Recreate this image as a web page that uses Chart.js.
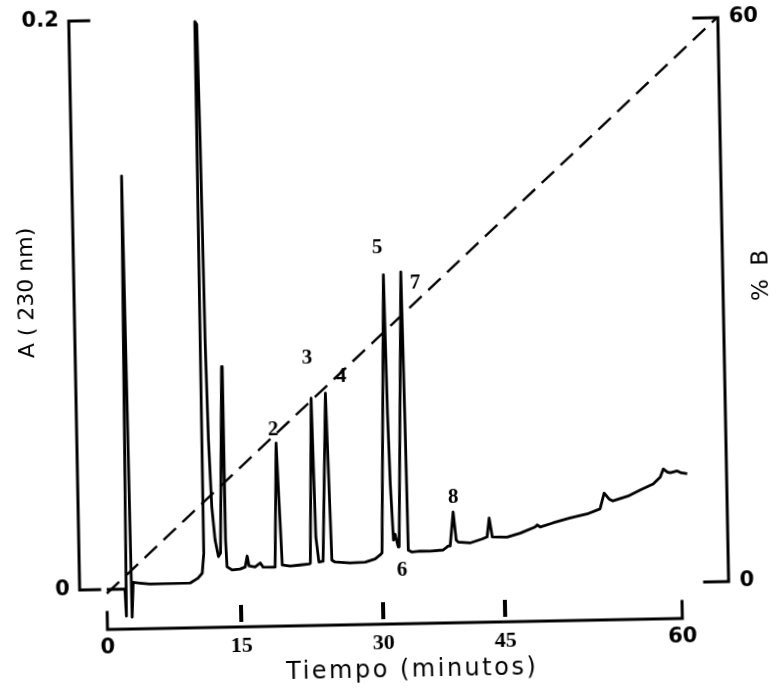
<!DOCTYPE html>
<html lang="es">
<head>
<meta charset="utf-8">
<title>Cromatograma</title>
<script src="https://cdn.jsdelivr.net/npm/chart.js@4.4.1/dist/chart.umd.min.js"></script>
<style>
  html, body { margin: 0; padding: 0; background: #fff; }
  #wrap { width: 780px; height: 688px; overflow: hidden; }
  /* la figura original está escaneada un poco girada */
  canvas { display: block; transform: rotate(-1.1deg); transform-origin: 50% 50%; }
</style>
</head>
<body>
<div id="wrap"><canvas id="cromatograma" width="780" height="688"></canvas></div>
<script>
// =========================
// DATOS
// =========================

// traza de absorbancia (minutos, A 230 nm)
const tiempos = [
  0, 2.04, 2.15, 2.55, 2.79, 2.98, 3.76, 4.83, 9.34, 10.25,
  10.73, 10.94, 11.08, 11.29, 11.42, 11.55, 11.71, 11.94, 12.24, 12.58,
  12.82, 13.33, 13.41, 13.52, 14.08, 14.98, 15.52, 15.75, 15.93, 16.56,
  17.13, 17.42, 18.37, 18.68, 19.03, 19.44, 20.27, 21.33, 22.28, 22.41,
  22.82, 23.04, 23.32, 23.76, 24.34, 24.69, 25.02, 26.59, 28.21, 29.26,
  29.8, 30.0, 30.82, 31.0, 31.18, 31.44, 31.65, 32.0, 32.12, 32.97,
  33.12, 33.24, 33.7, 34.69, 35.93, 37.53, 38.15, 38.4, 38.84, 39.16,
  39.39, 40.84, 42.34, 42.96, 43.26, 43.6, 44.56, 45.29, 46.41, 47.68,
  47.86, 48.11, 49.21, 50.65, 52.11, 53.21, 53.58, 53.99, 54.31, 55.59,
  56.65, 57.75, 58.36, 58.63, 58.97, 59.21, 59.81, 60.15, 60.65,
];
const absorbancia = [
  0, 0, -0.0095, 0.1452, -0.0099, 0.0023, 0.002, 0.0016, 0.0017, 0.0034,
  0.0051, 0.012, 0.199, 0.198, 0.157, 0.087, 0.052, 0.0283, 0.0166, 0.0108,
  0.012, 0.0775, 0.0166, 0.0072, 0.006, 0.0063, 0.007, 0.0108, 0.0073, 0.0069,
  0.0083, 0.0068, 0.0067, 0.0067, 0.0503, 0.0074, 0.007, 0.0073, 0.0076, 0.0078,
  0.0659, 0.017, 0.0082, 0.0085, 0.0675, 0.0088, 0.0081, 0.0077, 0.0079, 0.0089,
  0.0103, 0.011, 0.1087, 0.06, 0.035, 0.0154, 0.0175, 0.013, 0.013, 0.1096,
  0.06, 0.0118, 0.0111, 0.0114, 0.0113, 0.0116, 0.013, 0.013, 0.0249, 0.015,
  0.0143, 0.0139, 0.0152, 0.0159, 0.0225, 0.0159, 0.0158, 0.0157, 0.017, 0.0191,
  0.0198, 0.019, 0.0204, 0.022, 0.0233, 0.025, 0.0305, 0.0284, 0.0277, 0.0293,
  0.0314, 0.0334, 0.0358, 0.0386, 0.0375, 0.0372, 0.0378, 0.0371, 0.0368,
];

// gradiente de solvente B (línea discontinua)
const tiemposGradiente = [0, 63.9];
const porcentajeB = [0, 60];

// picos numerados: nombre y punto (min, A) donde va el número
const nombresPicos = ["2", "3", "4", "5", "6", "7", "8"];
const tiemposEtiqueta = [18.74, 22.48, 26.03, 30.12, 32.44, 34.71, 38.88];
const alturasEtiqueta = [0.0549, 0.08, 0.0731, 0.1182, 0.0048, 0.1056, 0.0302];

// marcas de los ejes
const ticksTiempo = [0, 15, 30, 45, 60];
const ticksA = [0, 0.2];
const ticksB = [0, 60];

const SANS = "'DejaVu Sans', sans-serif";
const SERIF = "'Liberation Serif', serif";

// =========================
// ESCALA DE TIEMPO DEL REGISTRO
// =========================

// en el registro las divisiones de 15 min no quedan igual de separadas:
// fracción de la longitud del eje (0 a 60 min) en la que cae cada marca
const fraccionMarcas = [0, 0.233, 0.48, 0.692, 1];

function fraccion(t) {
  const m = ticksTiempo;
  const f = fraccionMarcas;
  let i = 0;
  while (i < m.length - 2 && t > m[i + 1]) i++;
  return f[i] + ((t - m[i]) / (m[i + 1] - m[i])) * (f[i + 1] - f[i]);
}

function minutos(fr) {
  const m = ticksTiempo;
  const f = fraccionMarcas;
  let i = 0;
  while (i < f.length - 2 && fr > f[i + 1]) i++;
  return m[i] + ((fr - f[i]) / (f[i + 1] - f[i])) * (m[i + 1] - m[i]);
}

class EscalaRegistro extends Chart.LinearScale {
  static id = "registro";
  static defaults = Chart.LinearScale.defaults;

  getPixelForValue(v) {
    if (v === null || v === undefined || isNaN(v)) return NaN;
    const a = fraccion(this.min);
    const b = fraccion(this.max);
    return this.getPixelForDecimal((fraccion(v) - a) / (b - a));
  }

  getValueForPixel(p) {
    const a = fraccion(this.min);
    const b = fraccion(this.max);
    return minutos(a + this.getDecimalForPixel(p) * (b - a));
  }
}

Chart.register(EscalaRegistro);

// =========================
// EJES DIBUJADOS A MANO (estilo de figura impresa)
// =========================

const marco = {
  id: "marco",
  afterDatasetsDraw(chart) {
    const { ctx, chartArea } = chart;
    const { x, y, y1 } = chart.scales;

    ctx.save();
    ctx.strokeStyle = "#000";
    ctx.fillStyle = "#000";
    ctx.lineWidth = 3;
    ctx.lineCap = "square";

    // eje izquierdo con marcas hacia dentro
    const xl = chartArea.left;
    ctx.beginPath();
    ctx.moveTo(xl, y.getPixelForValue(ticksA[ticksA.length - 1]));
    ctx.lineTo(xl, y.getPixelForValue(ticksA[0]));
    ticksA.forEach((v) => {
      const py = y.getPixelForValue(v);
      ctx.moveTo(xl, py);
      ctx.lineTo(xl + 20, py);
    });
    ctx.stroke();

    // eje derecho (% B)
    const xr = chartArea.right;
    ctx.beginPath();
    ctx.moveTo(xr, y1.getPixelForValue(ticksB[ticksB.length - 1]));
    ctx.lineTo(xr, y1.getPixelForValue(ticksB[0]));
    ticksB.forEach((v) => {
      const py = y1.getPixelForValue(v);
      ctx.moveTo(xr, py);
      ctx.lineTo(xr - 24, py);
    });
    ctx.stroke();

    // eje de tiempo, separado por debajo del área
    const ya = chartArea.bottom + 36;
    const x0 = x.getPixelForValue(ticksTiempo[0]);
    const x1 = x.getPixelForValue(ticksTiempo[ticksTiempo.length - 1]);
    ctx.beginPath();
    ctx.moveTo(x0, ya - 17);
    ctx.lineTo(x0, ya);
    ctx.lineTo(x1, ya);
    ctx.lineTo(x1, ya - 17);
    ctx.stroke();

    // marcas intermedias gruesas y sueltas
    ticksTiempo.slice(1, -1).forEach((v) => {
      const px = x.getPixelForValue(v);
      ctx.fillRect(px - 2, ya - 22, 4, 17);
    });

    // títulos de los ejes
    ctx.textAlign = "center";
    ctx.textBaseline = "middle";

    ctx.font = "24px " + SANS;
    ctx.letterSpacing = "2.5px";
    ctx.fillText("Tiempo (minutos)", 406, chartArea.bottom + 83);

    ctx.save();
    ctx.font = "22px " + SANS;
    ctx.letterSpacing = "0px";
    ctx.translate(28, 286);
    ctx.rotate(-Math.PI / 2);
    ctx.fillText("A ( 230 nm)", 0, 0);
    ctx.restore();

    ctx.save();
    ctx.font = "23px " + SANS;
    ctx.letterSpacing = "3px";
    ctx.translate(chartArea.right + 39, 281);
    ctx.rotate(-Math.PI / 2);
    ctx.fillText("% B", 0, 0);
    ctx.restore();

    // números de los picos
    ctx.letterSpacing = "0px";
    ctx.font = "bold 21px " + SERIF;
    nombresPicos.forEach((n, i) => {
      ctx.fillText(
        n,
        x.getPixelForValue(tiemposEtiqueta[i]),
        y.getPixelForValue(alturasEtiqueta[i])
      );
    });

    ctx.restore();
  },
};

// =========================
// GRÁFICO
// =========================

const traza = tiempos.map((t, i) => ({ x: t, y: absorbancia[i] }));
const gradiente = tiemposGradiente.map((t, i) => ({ x: t, y: porcentajeB[i] }));

// sin márgenes automáticos por las etiquetas: el área queda fija
function sinRelleno(s) {
  s.paddingTop = 0;
  s.paddingBottom = 0;
  s.paddingLeft = 0;
  s.paddingRight = 0;
}

new Chart(document.getElementById("cromatograma"), {
  type: "line",

  data: {
    datasets: [
      {
        label: "A (230 nm)",
        data: traza,
        yAxisID: "y",
        borderColor: "#000",
        borderWidth: 2.8,
        borderJoinStyle: "round",
        pointRadius: 0,
        tension: 0,
        clip: false,
      },
      {
        label: "% B",
        data: gradiente,
        yAxisID: "y1",
        borderColor: "#000",
        borderWidth: 2.4,
        borderDash: [17, 9],
        pointRadius: 0,
        clip: false,
      },
    ],
  },

  options: {
    responsive: false,
    animation: false,
    events: [],

    layout: {
      padding: { top: 15, left: 0, right: 0, bottom: 0 },
    },

    plugins: {
      legend: { display: false },
      tooltip: { enabled: false },
    },

    scales: {
      x: {
        type: "registro",
        min: -3.03,
        max: 63.98,
        grid: { display: false, drawTicks: false },
        border: { display: false },
        afterFit: (s) => {
          s.height = 100;
          sinRelleno(s);
        },
        afterBuildTicks: (s) => {
          s.ticks = ticksTiempo.map((v) => ({ value: v }));
        },
        ticks: {
          padding: 42,
          color: "#000",
          maxRotation: 0,
          autoSkip: false,
          font: (c) =>
            c.tick && (c.tick.value === 0 || c.tick.value === 60)
              ? { family: SANS, size: 21, weight: "bold" }
              : { family: SERIF, size: 22, weight: "bold" },
          callback: (v) => String(v),
        },
      },

      y: {
        position: "left",
        min: -0.0014,
        max: 0.2,
        grid: { display: false, drawTicks: false },
        border: { display: false },
        afterFit: (s) => {
          s.width = 75;
          sinRelleno(s);
        },
        afterBuildTicks: (s) => {
          s.ticks = ticksA.map((v) => ({ value: v }));
        },
        ticks: {
          padding: 10,
          color: "#000",
          font: { family: SANS, size: 21, weight: "bold" },
          callback: (v) => String(v),
        },
      },

      y1: {
        position: "right",
        min: 0,
        max: 60.96,
        grid: { display: false, drawTicks: false },
        border: { display: false },
        afterFit: (s) => {
          s.width = 56;
          sinRelleno(s);
        },
        afterBuildTicks: (s) => {
          s.ticks = ticksB.map((v) => ({ value: v }));
        },
        ticks: {
          padding: 11,
          color: "#000",
          font: { family: SANS, size: 21, weight: "bold" },
          callback: (v) => String(v),
        },
      },
    },
  },

  plugins: [marco],
});
</script>
</body>
</html>
